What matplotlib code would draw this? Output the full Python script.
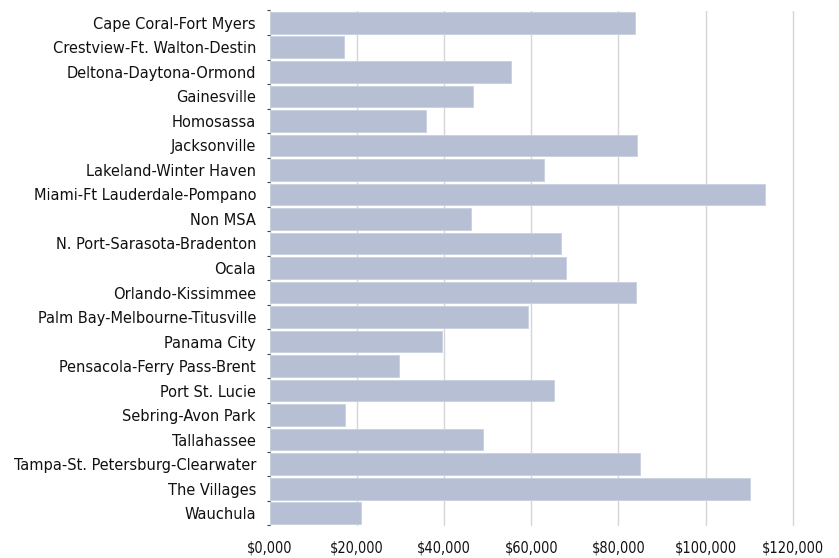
import matplotlib.pyplot as plt
import matplotlib.font_manager as fm
import numpy as np
from matplotlib.ticker import FuncFormatter

regions = ['Cape Coral-Fort Myers', 'Crestview-Ft. Walton-Destin', 'Deltona-Daytona-Ormond',
           'Gainesville', 'Homosassa', 'Jacksonville', 'Lakeland-Winter Haven',
           'Miami-Ft Lauderdale-Pompano', 'Non MSA', 'N. Port-Sarasota-Bradenton', 'Ocala',
           'Orlando-Kissimmee', 'Palm Bay-Melbourne-Titusville', 'Panama City',
           'Pensacola-Ferry Pass-Brent', 'Port St. Lucie', 'Sebring-Avon Park', 'Tallahassee',
           'Tampa-St. Petersburg-Clearwater', 'The Villages', 'Wauchula']
values = [83900, 17000, 55400, 46500, 35800, 84300, 63000, 113700, 46100, 66800, 67900,
          84100, 59200, 39500, 29600, 65200, 17300, 49000, 85000, 110300, 21000]
xticks = [0, 20000, 40000, 60000, 80000, 100000, 120000]

# look for a narrow font, the reference uses a condensed face
for f in fm.fontManager.ttflist:
    narrow = ('Condensed' in f.fname or 'Narrow' in f.fname) and 'Bold' not in f.fname \
        and 'Italic' not in f.fname and 'Light' not in f.fname and 'Oblique' not in f.fname
    if narrow and f.style == 'normal' and f.weight in (400, 'normal', 'regular'):
        plt.rcParams['font.family'] = [f.name, 'DejaVu Sans']
        plt.rcParams['font.stretch'] = f.stretch
        break

fig = plt.figure(figsize=(8.39, 5.58), dpi=100)
ax = fig.add_axes([270 / 839, 1 - 525.5 / 558, 544.4 / 839, 515 / 558])

y = np.arange(len(regions))
ax.barh(y, values, height=0.88, color='#b6bfd3', edgecolor='#c9d0df', linewidth=0.6, zorder=2)
ax.set_ylim(len(regions) - 1 + 0.44, -0.44)
ax.set_xlim(0, 125000)
ax.set_yticks(y)
ax.set_yticklabels(regions)
ax.set_xticks(xticks)
ax.xaxis.set_major_formatter(FuncFormatter(lambda v, p: '$' + f'{int(v):,}' if v else '$0,000'))
ax.tick_params(axis='x', length=0, labelcolor='#111111', pad=11, labelsize=12)
ax.tick_params(axis='y', length=0, labelcolor='#111111', pad=10, labelsize=12)
ax.set_yticks(np.arange(len(regions) + 1) - 0.5, minor=True)
ax.tick_params(axis='y', which='minor', length=2, width=0.8, color='#444444')
ax.grid(axis='x', color='#d6d6d6', linewidth=1, zorder=0)
for s in ax.spines.values():
    s.set_visible(False)

# size the labels so that the widest ones match the reference
fig.canvas.draw()
renderer = fig.canvas.get_renderer()
wy = max(t.get_window_extent(renderer).width for t in ax.get_yticklabels())
wx = max(t.get_window_extent(renderer).width for t in ax.get_xticklabels())
ax.tick_params(axis='y', labelsize=min(14.5, 12 * 242 / wy))
ax.tick_params(axis='x', labelsize=min(14.5, 12 * 62 / wx))

fig.savefig('out.png', dpi=100)
